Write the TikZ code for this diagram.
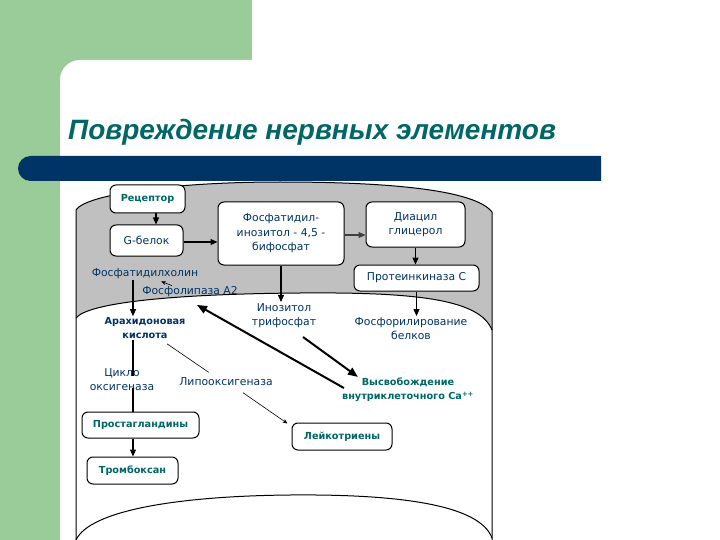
\documentclass[tikz,border=0pt]{standalone}
\usepackage{fontspec}
\setmainfont{DejaVu Sans}
\newfontfamily\titlefont{Liberation Sans}
\usetikzlibrary{arrows.meta,calc}
\definecolor{bggreen}{RGB}{153,204,153}
\definecolor{barnavy}{RGB}{0,51,102}
\definecolor{titlecol}{RGB}{0,102,102}
\definecolor{bluetxt}{RGB}{0,51,102}
\definecolor{tealtxt}{RGB}{0,102,102}
\definecolor{drumgrey}{RGB}{192,192,192}
\tikzset{
  lbl/.style={inner sep=1pt, align=center, text=bluetxt, font=\fontsize{10.8}{14.5}\selectfont},
  bld/.style={font=\bfseries\fontsize{9.7}{14}\selectfont},
  bx/.style={draw, line width=1pt, rounded corners=6pt, fill=white, inner sep=0pt, align=center},
  arr/.style={line width=1.1pt, -{Triangle[length=7pt,width=6pt]}},
  thickarr/.style={line width=2pt, -{Triangle[length=10pt,width=8pt]}},
  thinarr/.style={line width=0.6pt, -{Stealth[length=5pt,width=4pt]}},
  thinline/.style={line width=0.6pt},
  conn/.style={line width=1.1pt}
}
\begin{document}
\begin{tikzpicture}[x=1pt,y=-1pt]
\useasboundingbox (0,0) rectangle (720,540);
% background
\fill[bggreen] (0,0) rectangle (252,540);
\fill[white] (60,545) -- (60,80) .. controls (60,69) and (69,60) .. (80,60) -- (725,60) -- (725,545) -- cycle;
\fill[barnavy] (30.5,156) -- (601,156) -- (601,181) -- (30.5,181)
  .. controls (23.6,181) and (18,175.4) .. (18,168.5)
  .. controls (18,161.6) and (23.6,156) .. (30.5,156) -- cycle;
\node[anchor=base west, inner sep=0pt, text=titlecol, font=\titlefont\bfseries\itshape\fontsize{28}{30}\selectfont] (title) at (68,140) {Повреждение нервных элементов};
% drum
\fill[drumgrey] (76,318) -- (76,210) .. controls (85,195) and (170,182) .. (280,182)
  .. controls (390,182) and (475,190) .. (492,212) -- (492,330)
  .. controls (480,300) and (420,292) .. (300,293)
  .. controls (170,294) and (88,303) .. (76,318) -- cycle;
\draw[line width=1pt] (76,540) -- (76,210) .. controls (85,195) and (170,182) .. (280,182)
  .. controls (390,182) and (475,190) .. (492,212) -- (492,540);
\draw[line width=1pt] (76,318) .. controls (88,303) and (170,294) .. (300,293)
  .. controls (420,292) and (480,300) .. (492,330);
\draw[line width=1pt] (76,540) .. controls (90,510) and (180,496) .. (290,495)
  .. controls (400,494) and (480,505) .. (492,538);
% nodes
\node[bx, minimum width=75pt, minimum height=28pt, text=tealtxt, bld] (rec) at (147.5,199) {Рецептор};
\node[bx, minimum width=73pt, minimum height=31pt, lbl] (gb) at (146.5,240.5) {G-белок};
\node[bx, minimum width=126pt, minimum height=63pt, lbl] (pip) at (281,233.5) {Фосфатидил-\\инозитол - 4,5 -\\бифосфат};
\node[bx, minimum width=99pt, minimum height=45pt, lbl] (dag) at (415.5,224.5) {Диацил\\глицерол};
\node[bx, minimum width=125pt, minimum height=26pt, lbl] (pkc) at (416.5,278) {Протеинкиназа С};
\node[lbl] (pc) at (145,274) {Фосфатидилхолин};
\node[lbl] (pla) at (190,292) {Фосфолипаза А2};
\node[lbl, bld] (ara) at (145,328) {Арахидоновая\\кислота};
\node[lbl] (cox) at (122,379.5) {Цикло\\оксигеназа};
\node[lbl] (lox) at (226,382) {Липооксигеназа};
\node[bx, minimum width=117pt, minimum height=26pt, text=tealtxt, bld] (pg) at (140.5,425) {Простагландины};
\node[bx, minimum width=91pt, minimum height=27pt, text=tealtxt, bld] (tx) at (132.5,470.5) {Тромбоксан};
\node[bx, minimum width=100pt, minimum height=27pt, text=tealtxt, bld] (lt) at (342,436.5) {Лейкотриены};
\node[lbl] (ip3) at (284,315.5) {Инозитол\\трифосфат};
\node[lbl] (php) at (411,328.5) {Фосфорилирование\\белков};
\node[lbl, bld, text=tealtxt] (ca) at (408,390) {Высвобождение\\внутриклеточного Ca\textsuperscript{++}};
\coordinate (colx) at (133,0);
% connectors
\draw[arr] ($(rec.south)+(8.5,0)$) -- ($(gb.north)+(9.5,0)$);
\draw[arr] (gb.east |- 0,242) -- (pip.west |- 0,242);
\draw[arr, draw=black!75, fill=black!75] (pip.east |- 0,235) -- (dag.west |- 0,235);
\draw[arr] (dag.south) -- (dag.south |- pkc.north);
\draw[arr] (pkc.south) -- (pkc.south |- php.north);
\draw[arr] (pip.south) -- (pip.south |- ip3.north);
\draw[arr] (pc.south -| colx) -- (ara.north -| colx);
\draw[thinarr] ($(pla.north)+(-18,0)$) -- ($(pc.south)+(16,1)$);
\draw[conn] (ara.south -| colx) -- ([yshift=-9pt]cox.north -| colx);
\draw[conn] ([yshift=4pt]cox.south -| colx) -- (pg.north -| colx);
\draw[arr] (pg.south -| colx) -- (tx.north -| colx);
\draw[thinline] ($(ara.south)+(22,4)$) -- ($(lox.north west)+(30.5,-4.5)$);
\draw[thinarr] ($(lox.south)+(17,5.5)$) -- ($(lt.north west)+(-4,1)$);
\draw[thickarr] ($(ip3.south)+(19,8)$) -- ($(ca.north west)+(17,0)$);
\draw[thickarr] ($(ca.west)+(3,-2)$) -- ($(pla.south)+(7,6.6)$);
\end{tikzpicture}
\end{document}
